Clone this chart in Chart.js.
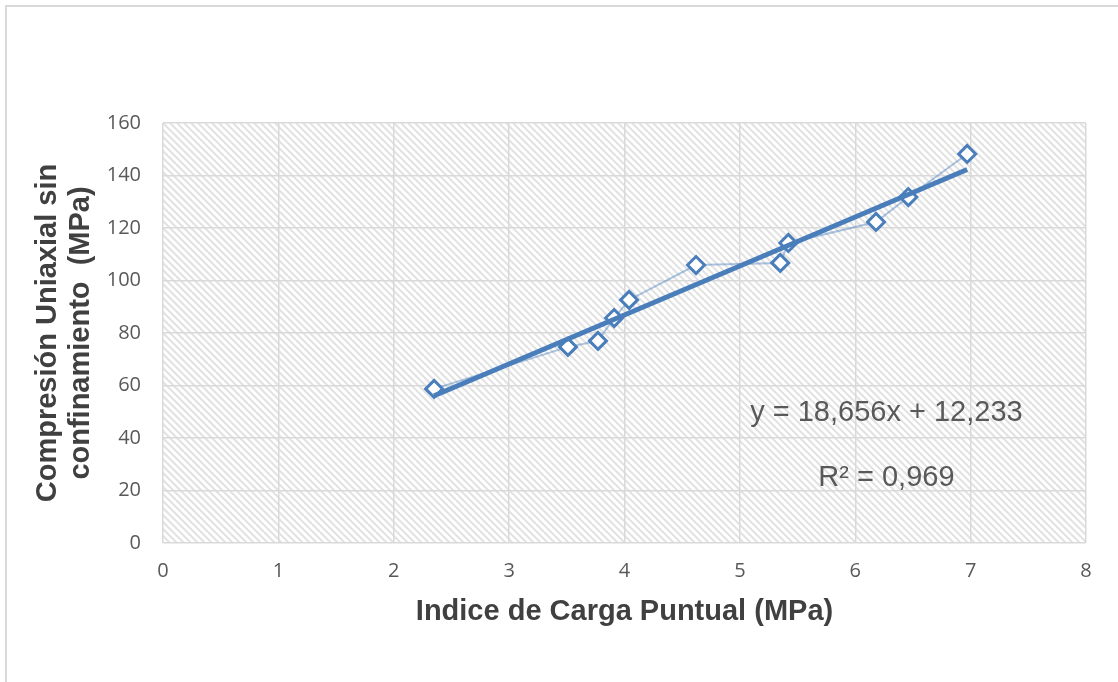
<!DOCTYPE html>
<html>
<head>
<meta charset="utf-8">
<script src="https://cdn.jsdelivr.net/npm/chart.js@4/dist/chart.umd.min.js"></script>
<style>
  html, body { margin: 0; padding: 0; background: #fff; }
  canvas { display: block; }
</style>
</head>
<body>
<canvas id="myChart" width="1118" height="682"></canvas>
<script>
'use strict';
// point load index (x) vs uniaxial compressive strength (y)
let indiceCarga = [2.35, 3.51, 3.77, 3.91, 4.04, 4.62, 5.35, 5.42, 6.18, 6.46, 6.97];
let compresion = [58.7, 74.7, 77.0, 85.7, 92.6, 105.9, 106.7, 114.3, 122.3, 131.8, 148.2];

// linear trendline as printed on the chart
let pendiente = 18.656;
let intercepto = 12.233;
let textoEcuacion = 'y = 18,656x + 12,233';
let textoR2 = 'R² = 0,969';

let xTicks = [0, 1, 2, 3, 4, 5, 6, 7, 8];
let yTicks = [0, 20, 40, 60, 80, 100, 120, 140, 160];

let xTitle = 'Indice de Carga Puntual (MPa)';
let yTitle = ['Compresión Uniaxial sin', 'confinamiento  (MPa)'];

const BLUE = '#4a7ebb';
const GRID = '#d9d9d9';
const TEXT = '#595959';

let puntos = [];
for (let i = 0; i < indiceCarga.length; i++) {
  puntos.push({x: indiceCarga[i], y: compresion[i]});
}
let xMin = Math.min(...indiceCarga);
let xMax = Math.max(...indiceCarga);
let tendencia = [
  {x: xMin, y: pendiente * xMin + intercepto},
  {x: xMax, y: pendiente * xMax + intercepto}
];

// background hatch + outer frame + equation labels
let decoracion = {
  id: 'decoracion',
  beforeDraw(chart) {
    let ctx = chart.ctx;
    let a = chart.chartArea;
    ctx.save();
    ctx.fillStyle = '#fff';
    ctx.fillRect(0, 0, chart.width, chart.height);
    // outer frame (top + left visible)
    ctx.strokeStyle = GRID;
    ctx.lineWidth = 2;
    ctx.beginPath();
    ctx.moveTo(6, chart.height);
    ctx.lineTo(6, 6);
    ctx.lineTo(chart.width, 6);
    ctx.stroke();
    // diagonal hatch in plot area
    ctx.beginPath();
    ctx.rect(a.left, a.top, a.right - a.left, a.bottom - a.top);
    ctx.clip();
    let h = a.bottom - a.top;
    ctx.strokeStyle = '#e2e2e2';
    ctx.lineWidth = 2;
    ctx.beginPath();
    for (let k = -h; k < a.right - a.left + 7; k += 7) {
      ctx.moveTo(a.left + k, a.top);
      ctx.lineTo(a.left + k + h, a.bottom);
    }
    ctx.stroke();
    ctx.restore();
  },
  afterDraw(chart) {
    let ctx = chart.ctx;
    let xs = chart.scales.x;
    let ys = chart.scales.y;
    ctx.save();
    ctx.fillStyle = TEXT;
    ctx.font = '29px "Liberation Sans", Arial, sans-serif';
    ctx.textAlign = 'center';
    ctx.textBaseline = 'middle';
    ctx.fillText(textoEcuacion, xs.getPixelForValue(6.27), ys.getPixelForValue(49.5));
    ctx.fillText(textoR2, xs.getPixelForValue(6.27), ys.getPixelForValue(24.8));
    ctx.restore();
  }
};

let ctx = document.getElementById('myChart').getContext('2d');
let myChart = new Chart(ctx, {
  type: 'scatter',
  data: {
    datasets: [{
      label: 'Tendencia',
      data: tendencia,
      showLine: true,
      borderColor: BLUE,
      borderWidth: 5,
      pointRadius: 0,
      order: 0
    }, {
      label: 'Datos',
      data: puntos,
      showLine: true,
      borderColor: 'rgba(74,126,187,0.45)',
      borderWidth: 2,
      pointStyle: 'rectRot',
      pointRadius: 8.5,
      pointBorderWidth: 3,
      pointBorderColor: BLUE,
      pointBackgroundColor: '#fff',
      order: 1
    }]
  },
  options: {
    responsive: false,
    animation: false,
    devicePixelRatio: 1,
    layout: {padding: {left: 0, top: 123, right: 32, bottom: 0}},
    plugins: {
      legend: {display: false},
      tooltip: {enabled: false}
    },
    scales: {
      x: {
        type: 'linear',
        min: 0,
        max: 8,
        afterFit(scale) { scale.height = 139; },
        afterBuildTicks(scale) { scale.ticks = xTicks.map(v => ({value: v})); },
        grid: {color: GRID, lineWidth: 1.5, drawTicks: false},
        border: {display: false},
        ticks: {
          padding: 16,
          color: TEXT,
          font: {family: '"Open Sans", sans-serif', size: 20}
        },
        title: {
          display: true,
          text: xTitle,
          color: '#404040',
          font: {family: '"Liberation Sans", Arial, sans-serif', size: 29, weight: 'bold', lineHeight: 1.2},
          padding: {top: 0, bottom: 53}
        }
      },
      y: {
        type: 'linear',
        min: 0,
        max: 160,
        afterFit(scale) { scale.width = 163; },
        afterBuildTicks(scale) { scale.ticks = yTicks.map(v => ({value: v})); },
        grid: {color: GRID, lineWidth: 1.5, drawTicks: false},
        border: {display: false},
        ticks: {
          padding: 22,
          color: TEXT,
          font: {family: '"Open Sans", sans-serif', size: 20}
        },
        title: {
          display: true,
          text: yTitle,
          color: '#404040',
          font: {family: '"Liberation Sans", Arial, sans-serif', size: 29, weight: 'bold', lineHeight: 1.14},
          padding: {top: 31, bottom: 0}
        }
      }
    }
  },
  plugins: [decoracion]
});
</script>
</body>
</html>
